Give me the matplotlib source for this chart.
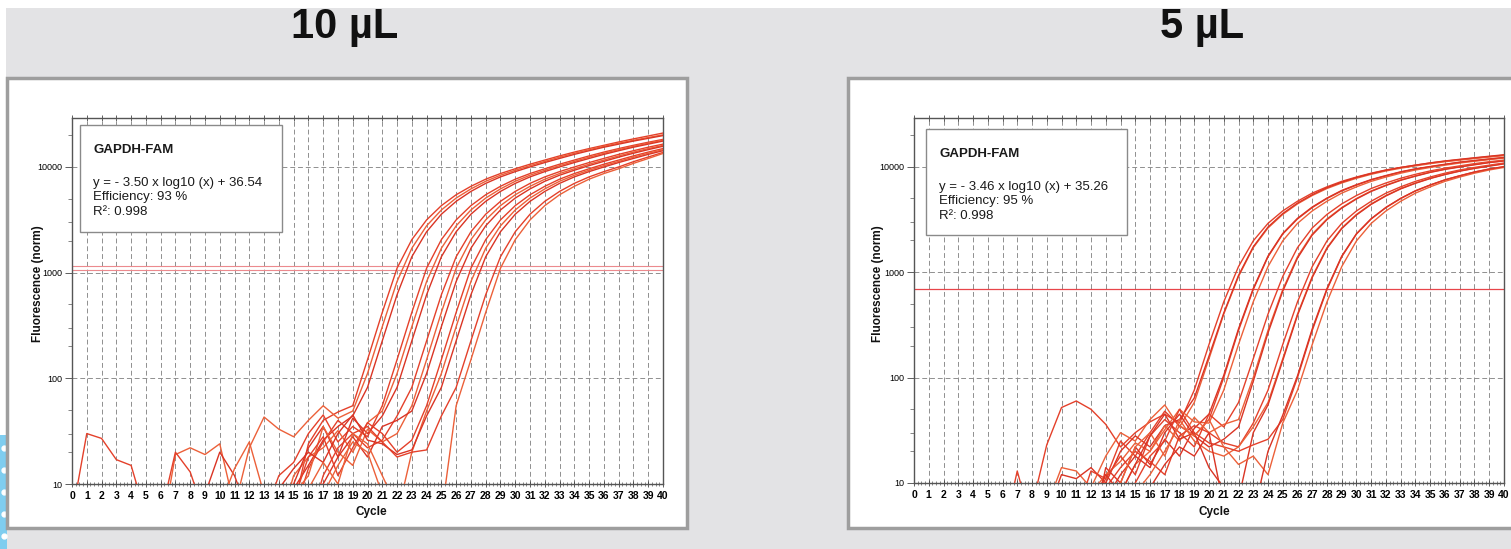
import matplotlib.pyplot as plt
from matplotlib.patches import Rectangle
from matplotlib.lines import Line2D
from matplotlib.ticker import FixedLocator, FixedFormatter, MultipleLocator, LogLocator, NullFormatter

plt.rcParams['font.family'] = ['Liberation Sans', 'DejaVu Sans']

W, H = 1511, 549

# ---- data ----
cycles = list(range(41))

titles = ['10 µL', '5 µL']
equations = ['y = - 3.50 x log10 (x) + 36.54', 'y = - 3.46 x log10 (x) + 35.26']
efficiencies = ['Efficiency: 93 %', 'Efficiency: 95 %']
r_squared = ['R²: 0.998', 'R²: 0.998']
target = 'GAPDH-FAM'

thresholds_10ul = [1060, 1150]
thresholds_5ul = [690]

# 10 uL run, fluorescence per cycle 0..40
p1_a1 = [5, 30, 27, 17, 15, 5, 4, 5, 3, 6, 5, 4, 3, 5, 4, 6, 24, 40, 48,
         55, 150, 420, 1100, 2050, 3150, 4300, 5450, 6550, 7650, 8650, 9600,
         10600, 11600, 12700, 13800, 14900, 16000, 17200, 18400, 19600, 20900]
p1_a2 = [3, 4, 5, 3, 4, 6, 3, 19, 22, 19, 24, 6, 22, 43, 33, 28, 40, 55, 42,
         49, 111, 308, 824, 1700, 2770, 3910, 5070, 6190, 7310, 8340, 9300,
         10280, 11280, 12360, 13460, 14560, 15670, 16760, 17860, 18970, 20090]
p1_a3 = [4, 3, 5, 6, 3, 4, 5, 3, 6, 8, 20, 12, 5, 7, 4, 9, 15, 26, 35,
         44, 82, 226, 617, 1412, 2434, 3565, 4720, 5860, 6980, 8040, 9020,
         9980, 10990, 12020, 13130, 14220, 15350, 16410, 17540, 18620, 19770]
p1_b1 = [3, 5, 4, 6, 3, 4, 5, 20, 13, 5, 4, 6, 3, 5, 12, 16, 30, 45, 25, 35, 28,
         55, 150, 420, 1100, 2050, 3150, 4300, 5450, 6550, 7650, 8650, 9600,
         10600, 11600, 12700, 13800, 14900, 16000, 17100, 18200]
p1_b2 = [5, 3, 4, 5, 6, 3, 4, 5, 3, 4, 6, 14, 25, 8, 4, 12, 18, 22, 32, 20, 38,
         49, 111, 308, 824, 1700, 2770, 3910, 5070, 6190, 7310, 8340, 9300,
         10280, 11280, 12360, 13460, 14560, 15670, 16760, 17860]
p1_b3 = [4, 6, 3, 5, 4, 6, 3, 4, 5, 6, 3, 4, 5, 6, 8, 10, 22, 35, 18, 42, 30,
         44, 82, 226, 617, 1412, 2434, 3565, 4720, 5860, 6980, 8040, 9020,
         9980, 10990, 12020, 13130, 14220, 15350, 16410, 17540]
p1_c1 = [3, 4, 6, 5, 3, 4, 6, 5, 4, 3, 5, 6, 4, 5, 7, 5, 14, 25, 40, 30, 22, 26,
         44, 82, 226, 617, 1412, 2434, 3565, 4720, 5860, 6980, 8040, 9020,
         9980, 10990, 12020, 13130, 14220, 15350, 16410]
p1_c2 = [5, 4, 3, 6, 5, 4, 3, 5, 6, 4, 3, 5, 6, 4, 5, 8, 12, 35, 20, 15, 33, 25, 30,
         55, 150, 420, 1100, 2050, 3150, 4300, 5450, 6550, 7650, 8650, 9600,
         10600, 11600, 12700, 13800, 14900, 16000]
p1_c3 = [4, 5, 6, 3, 4, 5, 6, 3, 4, 5, 6, 3, 4, 5, 6, 4, 8, 10, 18, 28, 18, 35, 40,
         49, 111, 308, 824, 1700, 2770, 3910, 5070, 6190, 7310, 8340, 9300,
         10280, 11280, 12360, 13460, 14560, 15670]
p1_d1 = [6, 3, 4, 5, 6, 4, 3, 5, 4, 6, 3, 5, 4, 6, 3, 7, 18, 28, 12, 22, 38, 30, 20, 26,
         55, 150, 420, 1100, 2050, 3150, 4300, 5450, 6550, 7650, 8650, 9600,
         10600, 11600, 12700, 13800, 14900]
p1_d2 = [3, 5, 6, 4, 3, 5, 6, 4, 5, 3, 4, 6, 5, 3, 4, 5, 6, 8, 15, 25, 20, 8, 5, 20,
         49, 111, 308, 824, 1700, 2770, 3910, 5070, 6190, 7310, 8340, 9300,
         10280, 11280, 12360, 13460, 14560]
p1_d3 = [5, 4, 6, 3, 5, 4, 6, 3, 5, 4, 6, 3, 5, 4, 9, 14, 20, 16, 30, 45, 26, 24, 19, 21,
         44, 82, 226, 617, 1412, 2434, 3565, 4720, 5860, 6980, 8040, 9020,
         9980, 10990, 12020, 13130, 14220]
p1_e1 = [4, 6, 3, 5, 4, 6, 3, 5, 4, 6, 3, 5, 4, 6, 3, 5, 4, 12, 22, 30, 35, 25, 18, 20, 21,
         44, 82, 226, 617, 1412, 2434, 3565, 4720, 5860, 6980, 8040, 9020,
         9980, 11200, 12400, 13700]
p1_e2 = [5, 3, 4, 6, 5, 3, 4, 6, 5, 3, 4, 6, 5, 3, 4, 6, 9, 16, 10, 30, 24, 12, 6, 4, 8, 5,
         55, 150, 420, 1100, 2050, 3150, 4300, 5450, 6550, 7650, 8650, 9600,
         10800, 12000, 13400]

# 5 uL run
p2_a1 = [4, 3, 5, 6, 4, 3, 5, 4, 6, 23, 52, 60, 50, 36, 22, 30, 38, 45,
         37, 76, 206, 523, 1130, 1982, 2904, 3811, 4710, 5623, 6450, 7270, 7990,
         8690, 9320, 9850, 10350, 10850, 11280, 11680, 12080, 12480, 12880]
p2_a2 = [5, 4, 3, 5, 6, 4, 3, 5, 4, 6, 14, 13, 9, 18, 30, 25, 40, 55,
         34, 58, 151, 400, 910, 1709, 2626, 3532, 4443, 5337, 6220, 7020, 7780,
         8480, 9130, 9690, 10190, 10700, 11160, 11560, 11960, 12360, 12760]
p2_a3 = [3, 5, 4, 6, 3, 5, 4, 6, 3, 5, 12, 11, 14, 10, 20, 28, 22, 35,
         40, 64, 160, 410, 930, 1740, 2680, 3600, 4520, 5430, 6330, 7140, 7910,
         8620, 9280, 9850, 10360, 10880, 11350, 11760, 12170, 12580, 12990]
p2_b1 = [4, 6, 3, 5, 4, 6, 3, 13, 4, 6, 3, 5, 13, 11, 25, 18, 30, 48, 35, 28,
         40, 100, 280, 684, 1400, 2300, 3200, 4100, 5000, 5900, 6700, 7500,
         8200, 8900, 9500, 10000, 10500, 11000, 11400, 11800, 12200]
p2_b2 = [5, 3, 6, 4, 5, 3, 6, 4, 5, 3, 6, 4, 8, 12, 16, 24, 20, 32, 50, 38,
         37, 76, 206, 523, 1130, 1982, 2904, 3811, 4710, 5623, 6450, 7270,
         7990, 8690, 9320, 9850, 10350, 10850, 11280, 11680, 12080]
p2_b3 = [3, 4, 5, 6, 3, 4, 5, 6, 3, 4, 5, 6, 3, 14, 10, 22, 15, 26, 18, 33,
         45, 105, 290, 700, 1420, 2330, 3240, 4150, 5050, 5960, 6760, 7560,
         8260, 8960, 9560, 10060, 10560, 11060, 11460, 11860, 12260]
p2_c1 = [6, 4, 3, 5, 6, 4, 3, 5, 6, 4, 3, 5, 6, 11, 18, 12, 28, 40, 30, 22, 45,
         34, 58, 151, 400, 910, 1709, 2626, 3532, 4443, 5337, 6220, 7020,
         7780, 8480, 9130, 9690, 10190, 10700, 11160, 11560]
p2_c2 = [4, 5, 3, 6, 4, 5, 3, 6, 4, 5, 3, 6, 4, 5, 8, 15, 20, 35, 25, 42, 30, 36,
         40, 100, 280, 684, 1400, 2300, 3200, 4100, 5000, 5900, 6700, 7500,
         8200, 8900, 9500, 10000, 10500, 11000, 11400]
p2_c3 = [5, 6, 4, 3, 5, 6, 4, 3, 5, 6, 4, 3, 5, 7, 12, 18, 14, 30, 45, 28, 22, 26,
         34, 92, 265, 660, 1360, 2250, 3150, 4050, 4950, 5840, 6640, 7440,
         8140, 8840, 9440, 9940, 10440, 10940, 11340]
p2_d1 = [3, 5, 6, 4, 3, 5, 6, 4, 3, 5, 6, 4, 3, 9, 14, 20, 16, 12, 28, 35, 30, 24, 22,
         37, 76, 206, 523, 1130, 1982, 2904, 3811, 4710, 5623, 6450, 7270,
         7990, 8690, 9320, 9850, 10350, 10850]
p2_d2 = [4, 3, 5, 6, 4, 3, 5, 6, 4, 3, 5, 6, 4, 6, 10, 22, 30, 18, 40, 25, 20, 18, 22,
         34, 58, 151, 400, 910, 1709, 2626, 3532, 4443, 5337, 6220, 7020,
         7780, 8480, 9130, 9690, 10190, 10700]
p2_d3 = [6, 5, 4, 3, 6, 5, 4, 3, 6, 5, 4, 3, 6, 12, 8, 15, 28, 45, 26, 30, 14, 9, 7,
         30, 55, 145, 390, 890, 1680, 2590, 3490, 4400, 5290, 6170, 6970,
         7730, 8430, 9080, 9640, 10140, 10650]
p2_e1 = [5, 4, 6, 3, 5, 4, 6, 3, 5, 4, 6, 3, 5, 4, 6, 10, 18, 25, 50, 30, 24, 22, 20, 23, 26,
         40, 100, 280, 684, 1400, 2300, 3200, 4100, 5000, 5900, 6700, 7500,
         8200, 8900, 9500, 10000]
p2_e2 = [4, 6, 3, 5, 4, 6, 3, 5, 4, 6, 3, 5, 4, 6, 3, 8, 12, 20, 35, 28, 40, 22, 15, 18, 12,
         37, 76, 206, 523, 1130, 1982, 2904, 3811, 4710, 5623, 6450, 7270,
         7990, 8690, 9320, 9850]
p2_e3 = [3, 5, 4, 6, 3, 5, 4, 6, 3, 5, 4, 6, 3, 5, 4, 6, 9, 15, 22, 18, 30, 6, 4, 5, 20,
         44, 104, 290, 700, 1420, 2320, 3220, 4120, 5020, 5920, 6720, 7520,
         8220, 8920, 9520, 10020]

curves_10ul = [p1_a1, p1_a2, p1_a3, p1_b1, p1_b2, p1_b3, p1_c1, p1_c2, p1_c3,
               p1_d1, p1_d2, p1_d3, p1_e1, p1_e2]
curves_5ul = [p2_a1, p2_a2, p2_a3, p2_b1, p2_b2, p2_b3, p2_c1, p2_c2, p2_c3,
              p2_d1, p2_d2, p2_d3, p2_e1, p2_e2, p2_e3]

curve_colors = ['#e4402a', '#ec6039', '#da3424']


def fx(x):
    return x / W


def fy(y):
    return 1 - y / H


fig = plt.figure(figsize=(W / 100, H / 100), dpi=100)
fig.patch.set_facecolor('#e3e3e5')

# white strips at top / left edge and the blue dotted tab
fig.add_artist(Rectangle((0, fy(8)), 1, 8 / H, transform=fig.transFigure,
                         facecolor='white', edgecolor='none', zorder=-3))
fig.add_artist(Rectangle((0, fy(435)), fx(6), (435 - 8) / H, transform=fig.transFigure,
                         facecolor='white', edgecolor='none', zorder=-3))
fig.add_artist(Rectangle((0, 0), fx(7), (H - 435) / H, transform=fig.transFigure,
                         facecolor='#7fcdef', edgecolor='none', zorder=-3))
fig.add_artist(Line2D([fx(4)] * 5, [fy(y) for y in (448, 470, 492, 514, 536)],
                      transform=fig.transFigure, ls='none', marker='o', ms=3.5,
                      color='white', zorder=-2))

# panel frames
for x0, x1 in [(7, 687), (848, 1525)]:
    fig.add_artist(Rectangle((fx(x0), fy(528)), fx(x1 - x0), (528 - 78) / H,
                             transform=fig.transFigure, facecolor='white',
                             edgecolor='#9e9e9e', linewidth=2.5, zorder=-1))

ax1 = fig.add_axes([fx(72), fy(484), fx(591), (484 - 118) / H])
ax2 = fig.add_axes([fx(914), fy(483), fx(590), (483 - 118) / H])


def draw_panel(ax, curves, thresholds, thr_color, thr_lw):
    for i, vals in enumerate(curves):
        ax.plot(cycles, vals, color=curve_colors[i % len(curve_colors)],
                lw=1.0, zorder=3)
    for t in thresholds:
        ax.axhline(t, color=thr_color, lw=thr_lw, zorder=2)

    ax.set_yscale('log')
    ax.set_xlim(0, 40)
    ax.set_ylim(10, 29000)
    ax.set_facecolor('white')

    ax.set_xticks(cycles)
    ax.set_xticklabels([str(c) for c in cycles], fontsize=7.5, fontweight='bold')
    ax.xaxis.set_minor_locator(MultipleLocator(0.25))

    ax.yaxis.set_major_locator(FixedLocator([10, 100, 1000, 10000]))
    ax.yaxis.set_major_formatter(FixedFormatter(['10', '100', '1000', '10000']))
    ax.yaxis.set_minor_locator(LogLocator(base=10, subs=(2.0, 3.0, 5.0)))
    ax.yaxis.set_minor_formatter(NullFormatter())

    ax.tick_params(axis='x', which='major', direction='inout', length=4, width=0.6,
                   color='#444444', top=True, pad=3)
    ax.tick_params(axis='x', which='minor', direction='inout', length=2.5, width=0.5,
                   color='#555555', top=False)
    ax.tick_params(axis='y', which='major', direction='out', length=5, width=0.6,
                   color='#444444', labelsize=6.5, pad=2)
    ax.tick_params(axis='y', which='minor', direction='out', length=3, width=0.5,
                   color='#555555')

    # dashed grid at every cycle and every decade
    ax.grid(True, axis='x', which='major', color='#8f8f8f', lw=0.7, ls=(0, (5, 3)), zorder=1)
    ax.grid(True, axis='y', which='major', color='#8f8f8f', lw=0.7, ls=(0, (5, 3)), zorder=1)
    ax.set_axisbelow(True)

    for s in ax.spines.values():
        s.set_color('#555555')
        s.set_linewidth(1.0)


draw_panel(ax1, curves_10ul, thresholds_10ul, '#ec8a8e', 0.8)
draw_panel(ax2, curves_5ul, thresholds_5ul, '#e8454a', 0.9)

# titles and axis labels
for i, (cx, lx, ylx) in enumerate([(345, 371, 38), (1202, 1214, 878)]):
    fig.text(fx(cx), fy(38), titles[i], fontsize=30, fontweight='bold',
             ha='center', va='baseline', color='#111111')
    fig.text(fx(lx), fy(512), 'Cycle', fontsize=8.5, fontweight='bold',
             ha='center', va='center', color='#111111')
    fig.text(fx(ylx), fy(284), 'Fluorescence (norm)', fontsize=8.5, fontweight='bold',
             rotation=90, ha='center', va='center', color='#111111')

# legend boxes with the standard curve fit
for i, (bx0, by0, bx1, by1) in enumerate([(80, 125, 282, 232), (926, 129, 1127, 235)]):
    fig.add_artist(Rectangle((fx(bx0), fy(by1)), fx(bx1 - bx0), (by1 - by0) / H,
                             transform=fig.transFigure, facecolor='white',
                             edgecolor='#8a8a8a', linewidth=1.0, zorder=4))
    tx = bx0 + 14
    fig.text(fx(tx), fy(by0 + 28), target, fontsize=9.5, fontweight='bold',
             va='baseline', color='#1a1a1a', zorder=5)
    fig.text(fx(tx - 1), fy(by0 + 61), equations[i], fontsize=9.5,
             va='baseline', color='#1a1a1a', zorder=5)
    fig.text(fx(tx - 1), fy(by0 + 75), efficiencies[i], fontsize=9.5,
             va='baseline', color='#1a1a1a', zorder=5)
    fig.text(fx(tx - 1), fy(by0 + 90), r_squared[i], fontsize=9.5,
             va='baseline', color='#1a1a1a', zorder=5)

fig.savefig('out.png', dpi=100, facecolor=fig.get_facecolor())
